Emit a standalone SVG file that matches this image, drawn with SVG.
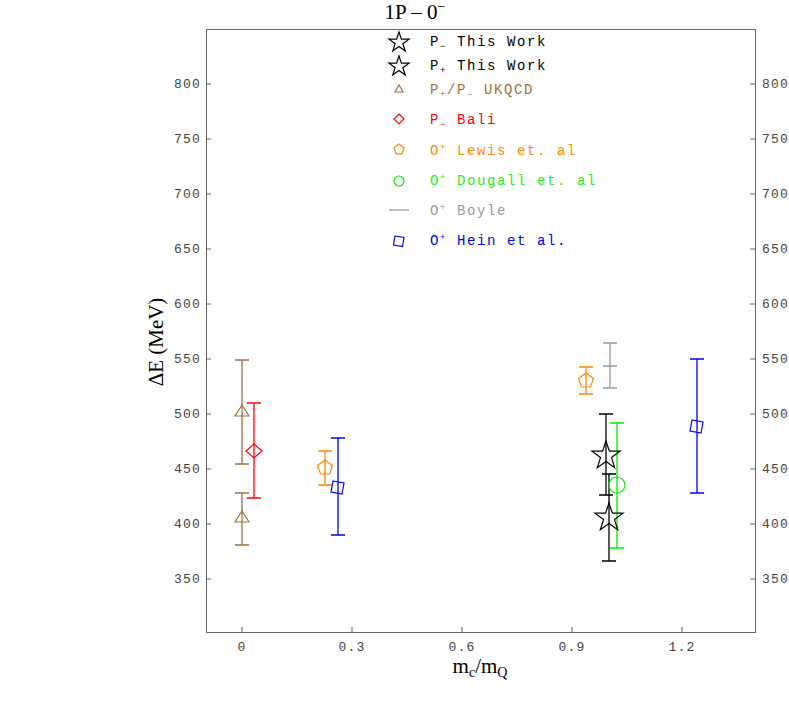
<svg xmlns="http://www.w3.org/2000/svg" width="789" height="704" viewBox="0 0 789 704">
<style>
.t{font-family:"Liberation Mono",monospace;font-size:13px;letter-spacing:1.2px}
.lg{font-size:14px;letter-spacing:1.6px}
.s{font-family:"Liberation Serif",serif}
.eb{fill:none;stroke-width:1.3}
.m{fill:none;stroke-width:1.2}
</style>
<rect width="789" height="704" fill="#fff"/>
<g id="frame" stroke="#666" fill="none">
<rect x="206.5" y="29.5" width="549" height="603"/>
<path d="M206 84h5M206 139h5M206 194h5M206 249h5M206 304h5M206 359h5M206 414h5M206 469h5M206 524h5M206 579h5
M755 84h-5M755 139h-5M755 194h-5M755 249h-5M755 304h-5M755 359h-5M755 414h-5M755 469h-5M755 524h-5M755 579h-5
M242 632v-5M352 632v-5M462 632v-5M572 632v-5M682 632v-5"/>
</g>
<g id="ticklabels" class="t" fill="#444">
<g text-anchor="end">
<text x="201" y="88">800</text><text x="201" y="143">750</text><text x="201" y="198">700</text><text x="201" y="253">650</text><text x="201" y="308">600</text><text x="201" y="363">550</text><text x="201" y="418">500</text><text x="201" y="473">450</text><text x="201" y="528">400</text><text x="201" y="583">350</text>
</g>
<g>
<text x="762" y="88">800</text><text x="762" y="143">750</text><text x="762" y="198">700</text><text x="762" y="253">650</text><text x="762" y="308">600</text><text x="762" y="363">550</text><text x="762" y="418">500</text><text x="762" y="473">450</text><text x="762" y="528">400</text><text x="762" y="583">350</text>
</g>
<g text-anchor="middle">
<text x="242" y="651">0</text><text x="352" y="651">0.3</text><text x="462" y="651">0.6</text><text x="572" y="651">0.9</text><text x="682" y="651">1.2</text>
</g>
</g>
<text class="s" x="415" y="19" font-size="21" text-anchor="middle">1P – 0<tspan dy="-8" font-size="14">−</tspan></text>
<text class="s" x="480" y="673" font-size="21" text-anchor="middle">m<tspan dy="4" font-size="14">c</tspan><tspan dy="-4">/m</tspan><tspan dy="4" font-size="14">Q</tspan></text>
<text class="s" font-size="21" text-anchor="middle" transform="translate(163,342) rotate(-90)">ΔE (MeV)</text>
<g id="legend" class="t">
<path class="m" stroke="#000" d="M399 32l2.4 7.2h7.6l-6.1 4.5 2.3 7.3-6.2-4.5-6.2 4.5 2.3-7.3-6.1-4.5h7.6z"/>
<text class="lg" x="430" y="46">P<tspan dy="3" font-size="9">−</tspan><tspan dy="-3"> This Work</tspan></text>
<path class="m" stroke="#000" d="M399 56l2.4 7.2h7.6l-6.1 4.5 2.3 7.3-6.2-4.5-6.2 4.5 2.3-7.3-6.1-4.5h7.6z"/>
<text class="lg" x="430" y="70">P<tspan dy="3" font-size="9">+</tspan><tspan dy="-3"> This Work</tspan></text>
<path class="m" stroke="#a0703c" d="M399 85l4 7h-8z"/>
<text class="lg" x="430" y="94" fill="#a0703c">P<tspan dy="3" font-size="9">+</tspan><tspan dy="-3">/P</tspan><tspan dy="3" font-size="9">−</tspan><tspan dy="-3"> UKQCD</tspan></text>
<path class="m" stroke="#f00" d="M399 114l5 5-5 5-5-5z"/>
<text class="lg" x="430" y="124" fill="#f00">P<tspan dy="3" font-size="9">−</tspan><tspan dy="-3"> Bali</tspan></text>
<path class="m" stroke="#f80" d="M399 144l5 3.8-2 6h-6l-2-6z"/>
<text class="lg" x="430" y="155" fill="#f80">O<tspan dy="-5" font-size="9">+</tspan><tspan dy="5"> Lewis et. al</tspan></text>
<circle class="m" stroke="#0e0" cx="399" cy="181" r="5"/>
<text class="lg" x="430" y="185" fill="#2e2">O<tspan dy="-5" font-size="9">+</tspan><tspan dy="5"> Dougall et. al</tspan></text>
<path stroke="#999" stroke-width="1.3" d="M389 210h20"/>
<text class="lg" x="430" y="215" fill="#999">O<tspan dy="-5" font-size="9">+</tspan><tspan dy="5"> Boyle</tspan></text>
<path class="m" stroke="#00f" d="M395 236l9 1.5-1.5 9-9-1.5z"/>
<text class="lg" x="430" y="245" fill="#00f">O<tspan dy="-5" font-size="9">+</tspan><tspan dy="5">  Hein et al.</tspan></text>
</g>
<g id="connectors">
<path class="eb" stroke="#a0703c" d="M242 360v104M235 360h14M235 464h14M242 493v52M235 493h14M235 545h14"/>
<path class="eb" stroke="#f00" d="M254 403v95M247 403h14M247 498h14"/>
<path class="eb" stroke="#f80" d="M325 451v34M318 451h14M318 485h14M586 367v27M579 367h14M579 394h14"/>
<path class="eb" stroke="#00f" d="M338 438v97M331 438h14M331 535h14M697 359v134M690 359h14M690 493h14"/>
<path class="eb" stroke="#999" d="M610 343v45M603 343h14M603 388h14M603 366h14"/>
<path class="eb" stroke="#000" d="M606 414v81M599 414h14M599 495h14M609 474v87M602 474h14M602 561h14"/>
<path class="eb" stroke="#0e0" d="M617 423v125M610 423h14M610 548h14"/>
</g>
<g id="markers">
<path class="m" stroke="#a0703c" d="M242 405l7 11h-14zM242 511l7 11h-14z"/>
<path class="m" stroke="#f00" d="M254 444l8 7-8 7-8-7z"/>
<path class="m" stroke="#f80" d="M325 460l7.5 5.5-3 8.5h-9l-3-8.5zM586 373l7.5 5.5-3 8.5h-9l-3-8.5z"/>
<path class="m" stroke="#00f" d="M333 481l11 2-2 11-11-2zM692 420l11 2-2 11-11-2z"/>
<circle class="m" stroke="#0e0" cx="617" cy="485" r="8"/>
<path class="m" stroke="#000" d="M606 441l3.4 10.2h10.7l-8.6 6.4 3.2 10.2-8.7-6.3-8.7 6.3 3.2-10.2-8.6-6.4h10.7zM609 503l3.4 10.2h10.7l-8.6 6.4 3.2 10.2-8.7-6.3-8.7 6.3 3.2-10.2-8.6-6.4h10.7z"/>
</g>
</svg>
